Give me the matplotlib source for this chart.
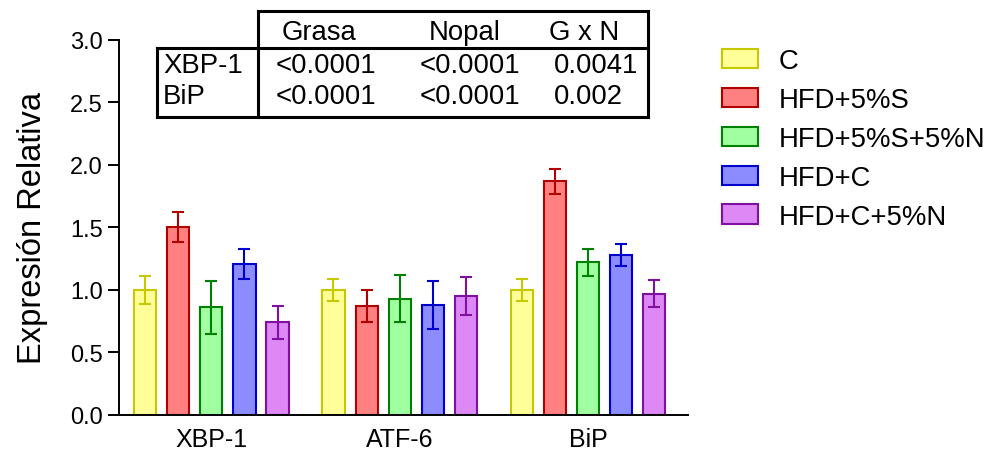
import numpy as np
import matplotlib
matplotlib.use("Agg")
import matplotlib.pyplot as plt
from matplotlib.lines import Line2D

plt.rcParams['font.family'] = ['Liberation Sans', 'DejaVu Sans']

genes = ['XBP-1', 'ATF-6', 'BiP']
groups = ['C', 'HFD+5%S', 'HFD+5%S+5%N', 'HFD+C', 'HFD+C+5%N']

# mean relative expression per group, order: XBP-1, ATF-6, BiP
c_mean = [1.00, 1.00, 1.00]
s_mean = [1.50, 0.87, 1.87]
sn_mean = [0.86, 0.93, 1.22]
hc_mean = [1.21, 0.88, 1.28]
hcn_mean = [0.74, 0.95, 0.97]

c_err = [0.11, 0.09, 0.09]
s_err = [0.12, 0.13, 0.10]
sn_err = [0.21, 0.19, 0.11]
hc_err = [0.12, 0.19, 0.09]
hcn_err = [0.13, 0.15, 0.11]

means = [c_mean, s_mean, sn_mean, hc_mean, hcn_mean]
errs = [c_err, s_err, sn_err, hc_err, hcn_err]

face_colors = ['#FFFF99', '#FF8080', '#A0FFA0', '#8C8CFF', '#DD88F5']
edge_colors = ['#C8C800', '#B00000', '#008000', '#0000CC', '#8010A0']

# p-value table
table_cols = ['Grasa', 'Nopal', 'G x N']
table_rows = ['XBP-1', 'BiP']
table_vals = [['<0.0001', '<0.0001', '0.0041'],
              ['<0.0001', '<0.0001', '0.002']]

W, H = 988, 452
fig = plt.figure(figsize=(W / 100, H / 100), dpi=100)
ax = fig.add_axes([119 / W, 1 - 416 / H, (688 - 119) / W, (416 - 40.7) / H])

group_gap = 5.69
x_center = np.arange(len(genes)) * group_gap
for j in range(len(groups)):
    xs = x_center + (j - 2)
    ax.bar(xs, means[j], width=0.67, color=face_colors[j], edgecolor=edge_colors[j],
           linewidth=1.5, label=groups[j], zorder=2)
    ax.errorbar(xs, means[j], yerr=errs[j], fmt='none', ecolor=edge_colors[j],
                elinewidth=1.5, capsize=4.3, capthick=1.5, zorder=3)

ax.set_xlim(-2.79, 14.4)
ax.set_ylim(0, 3.0)
ax.set_yticks(np.arange(0, 3.01, 0.5))
ax.set_yticklabels(['%.1f' % v for v in np.arange(0, 3.01, 0.5)])
ax.set_xticks(x_center)
ax.set_xticklabels(genes)
ax.tick_params(axis='y', direction='out', length=8, width=1.4, labelsize=17, pad=3.5)
ax.tick_params(axis='x', length=0, labelsize=18, pad=9)
for s in ['top', 'right']:
    ax.spines[s].set_visible(False)
for s in ['left', 'bottom']:
    ax.spines[s].set_linewidth(1.4)
ax.set_ylabel('Expresión Relativa', fontsize=23.5, labelpad=16)

leg = ax.legend(loc='upper left', bbox_to_anchor=(722 / W, 1 - 49 / H),
                bbox_transform=fig.transFigure, frameon=False, fontsize=19.8,
                handlelength=1.3, handleheight=0.7, handletextpad=0.75,
                labelspacing=0.47, borderaxespad=0, borderpad=0)


# table drawn in figure pixel coordinates
def fx(x):
    return x / W


def fy(y):
    return 1 - y / H


lw = 2.2
tab_lines = [
    ((258, 648), (12, 12)),
    ((157, 648), (49, 49)),
    ((157, 648), (118, 118)),
    ((157, 157), (49, 118)),
    ((258, 258), (12, 118)),
    ((648, 648), (12, 118)),
]
for (x0, x1), (y0, y1) in tab_lines:
    fig.add_artist(Line2D([fx(x0), fx(x1)], [fy(y0), fy(y1)], color='black',
                          linewidth=lw, solid_capstyle='projecting'))

col_x = [319, 465, 584]
for k, name in enumerate(table_cols):
    fig.text(fx(col_x[k]), fy(33), name, ha='center', va='center', fontsize=19.8)

row_y = [66, 97]
val_x = [276, 420, 554]
for i, name in enumerate(table_rows):
    fig.text(fx(163), fy(row_y[i]), name, ha='left', va='center', fontsize=19.8)
    for k in range(len(table_cols)):
        fig.text(fx(val_x[k]), fy(row_y[i]), table_vals[i][k], ha='left', va='center',
                 fontsize=19.8)

fig.savefig('out.png', dpi=100)
